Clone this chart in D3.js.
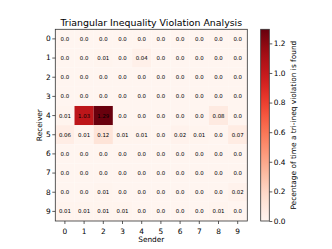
<!DOCTYPE html>
<html>
<head>
<meta charset="utf-8">
<script src="https://cdn.jsdelivr.net/npm/d3@7"></script>
<style>
  body { margin: 0; background: #fff; }
  text { font-family: "DejaVu Sans", sans-serif; fill: #000; }
</style>
</head>
<body>
<div id="chart"></div>
<script>
var width = 332
var height = 249

// senders on x, receivers on y
var senders = [0, 1, 2, 3, 4, 5, 6, 7, 8, 9]
var receivers = [0, 1, 2, 3, 4, 5, 6, 7, 8, 9]

// one row per receiver
var row0 = [0, 0, 0, 0, 0, 0, 0, 0, 0, 0]
var row1 = [0, 0, 0.01, 0, 0.04, 0, 0, 0, 0, 0]
var row2 = [0, 0, 0, 0, 0, 0, 0, 0, 0, 0]
var row3 = [0, 0, 0, 0, 0, 0, 0, 0, 0, 0]
var row4 = [0.01, 1.03, 1.29, 0, 0, 0, 0, 0, 0.08, 0]
var row5 = [0.06, 0.01, 0.12, 0.01, 0.01, 0, 0.02, 0.01, 0, 0.07]
var row6 = [0, 0, 0, 0, 0, 0, 0, 0, 0, 0]
var row7 = [0, 0, 0, 0, 0, 0, 0, 0, 0, 0]
var row8 = [0, 0, 0.01, 0, 0, 0, 0, 0, 0, 0.02]
var row9 = [0.01, 0.01, 0.01, 0.01, 0, 0, 0, 0, 0.01, 0]
var rows = [row0, row1, row2, row3, row4, row5, row6, row7, row8, row9]

var cbarTicks = [0, 0.2, 0.4, 0.6, 0.8, 1.0, 1.2]
var vmax = 1.295

    function makeChart() {
        var svg = d3.select("#chart").append("svg")
            .attr("width", width)
            .attr("height", height)

        var left = 55.3, right = 247.3, top = 29.3, bottom = 221

        var x = d3.scaleBand().domain(senders).range([left, right])
        var y = d3.scaleBand().domain(receivers).range([top, bottom])
        var color = d3.scaleSequential(d3.interpolateReds).domain([0, vmax])

        // flatten grid
        var cells = []
        rows.forEach(function(r, i) {
            r.forEach(function(v, j) {
                cells.push({ recv: receivers[i], send: senders[j], v: v })
            })
        })

        svg.selectAll("rect.cell")
            .data(cells)
            .enter()
            .append("rect")
            .attr("class", "cell")
            .attr("x", function(d) { return x(d.send) })
            .attr("y", function(d) { return y(d.recv) })
            .attr("width", x.bandwidth())
            .attr("height", y.bandwidth())
            .attr("fill", function(d) { return color(d.v) })

        svg.selectAll("text.val")
            .data(cells)
            .enter()
            .append("text")
            .attr("class", "val")
            .attr("x", function(d) { return x(d.send) + x.bandwidth() / 2 })
            .attr("y", function(d) { return y(d.recv) + y.bandwidth() / 2 })
            .attr("text-anchor", "middle")
            .attr("dominant-baseline", "central")
            .style("font-size", "5.4px")
            .text(function(d) { return d.v === 0 ? "0.0" : String(d.v) })

        // frame
        svg.append("rect")
            .attr("x", left).attr("y", top)
            .attr("width", right - left).attr("height", bottom - top)
            .attr("fill", "none").attr("stroke", "#333").attr("stroke-width", 0.8)

        var xAxis = svg.append("g")
            .attr("transform", "translate(0," + bottom + ")")
            .call(d3.axisBottom(x).tickSize(3).tickSizeOuter(0))
        var yAxis = svg.append("g")
            .attr("transform", "translate(" + left + ",0)")
            .call(d3.axisLeft(y).tickSize(3).tickSizeOuter(0))

        ;[xAxis, yAxis].forEach(function(g) {
            g.select(".domain").remove()
            g.selectAll("line").attr("stroke", "#333").attr("stroke-width", 0.8)
            g.selectAll("text").style("font-size", "7.4px").attr("fill", "#000")
        })
        xAxis.selectAll("text").attr("dy", "0.9em")
        yAxis.selectAll("text").attr("x", -4.5)

        svg.append("text")
            .attr("x", (left + right) / 2)
            .attr("y", 26)
            .attr("text-anchor", "middle")
            .style("font-size", "9.4px")
            .text("Triangular Inequality Violation Analysis")

        svg.append("text")
            .attr("x", (left + right) / 2)
            .attr("y", 242)
            .attr("text-anchor", "middle")
            .style("font-size", "7.4px")
            .text("Sender")

        svg.append("text")
            .attr("transform", "translate(41.5," + (top + bottom) / 2 + ") rotate(-90)")
            .attr("text-anchor", "middle")
            .style("font-size", "7.4px")
            .text("Receiver")

        // colorbar
        var cbLeft = 260.7, cbW = 8.6
        var cb = d3.scaleLinear().domain([0, vmax]).range([bottom, top])

        var grad = svg.append("defs").append("linearGradient")
            .attr("id", "cbgrad")
            .attr("x1", 0).attr("y1", 1).attr("x2", 0).attr("y2", 0)
        d3.range(0, 1.0001, 0.05).forEach(function(t) {
            grad.append("stop")
                .attr("offset", t)
                .attr("stop-color", d3.interpolateReds(t))
        })

        svg.append("rect")
            .attr("x", cbLeft).attr("y", top)
            .attr("width", cbW).attr("height", bottom - top)
            .attr("fill", "url(#cbgrad)")
            .attr("stroke", "#333").attr("stroke-width", 0.8)

        var cbAxis = svg.append("g")
            .attr("transform", "translate(" + (cbLeft + cbW) + ",0)")
            .call(d3.axisRight(cb).tickValues(cbarTicks).tickSize(3).tickFormat(d3.format(".1f")))
        cbAxis.select(".domain").remove()
        cbAxis.selectAll("line").attr("stroke", "#333").attr("stroke-width", 0.8)
        cbAxis.selectAll("text").style("font-size", "7.4px").attr("fill", "#000").attr("x", 4.5)

        svg.append("text")
            .attr("transform", "translate(295.5," + (top + bottom) / 2 + ") rotate(-90)")
            .attr("text-anchor", "middle")
            .style("font-size", "7.4px")
            .text("Pecentage of time a tri-ineq violation is found")
    }

    makeChart()
</script>
</body>
</html>
